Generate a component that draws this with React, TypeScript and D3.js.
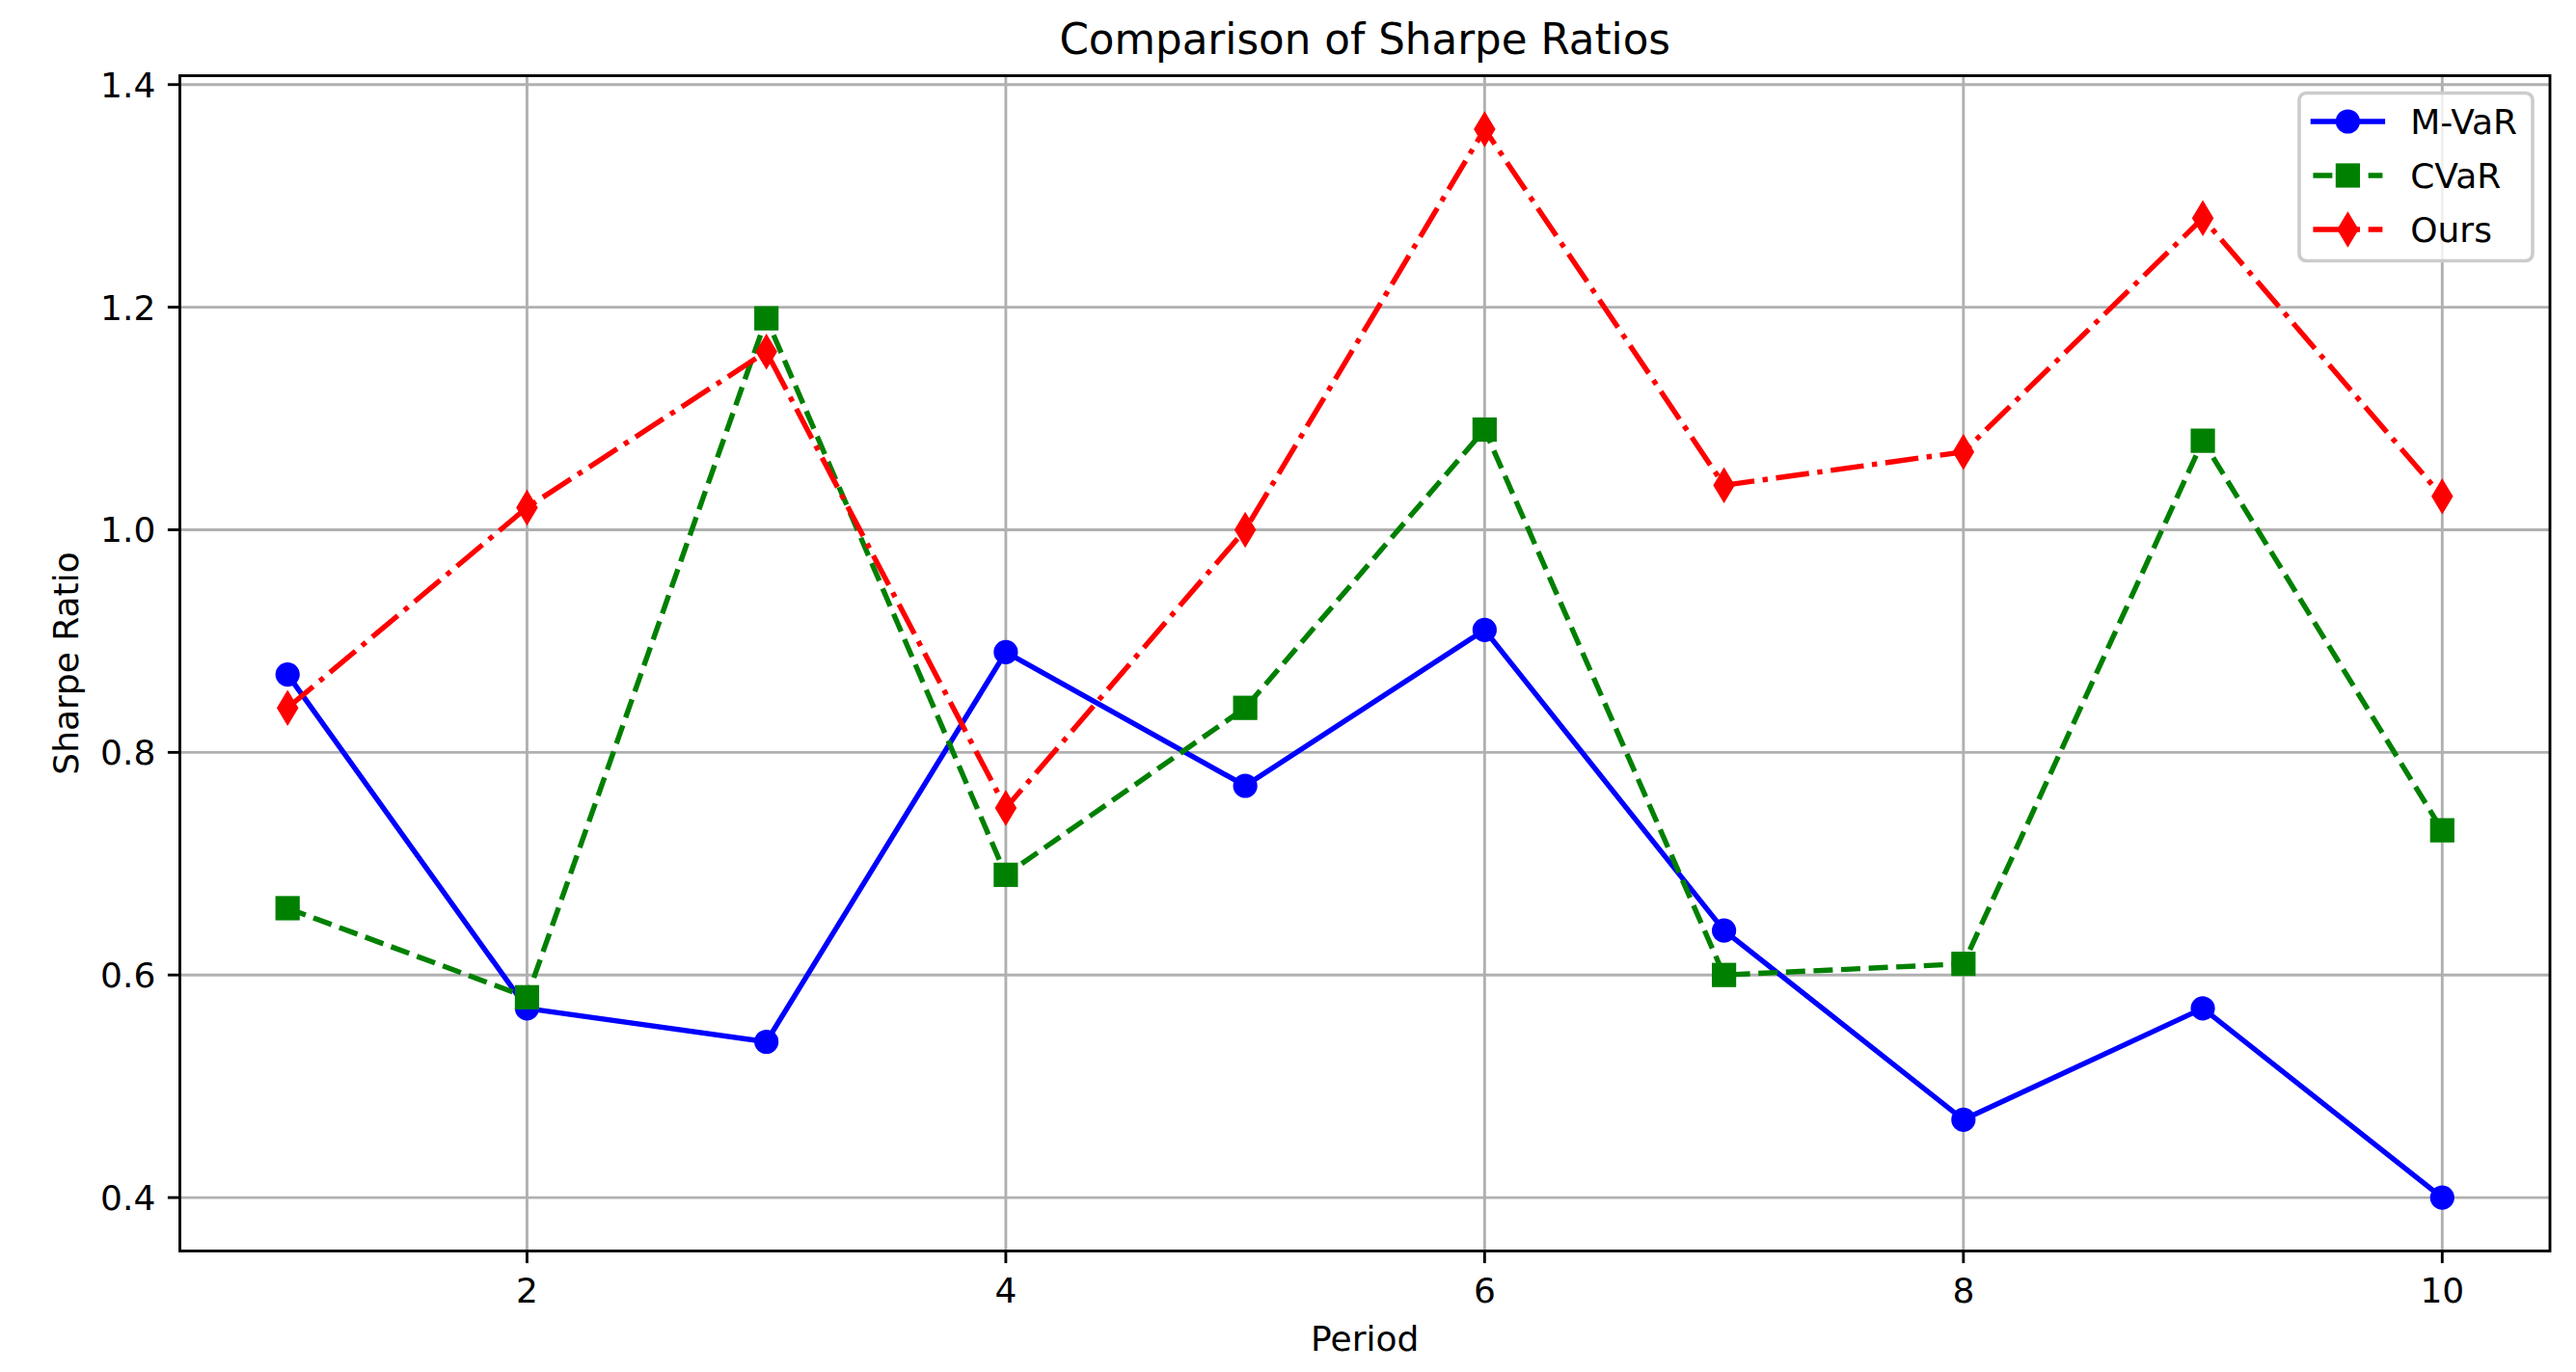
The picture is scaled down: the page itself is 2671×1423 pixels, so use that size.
import React from "react";
import * as d3 from "d3";

const periods = [1, 2, 3, 4, 5, 6, 7, 8, 9, 10];
const mvar = [0.87, 0.57, 0.54, 0.89, 0.77, 0.91, 0.64, 0.47, 0.57, 0.40];
const cvar = [0.66, 0.58, 1.19, 0.69, 0.84, 1.09, 0.60, 0.61, 1.08, 0.73];
const ours = [0.84, 1.02, 1.16, 0.75, 1.00, 1.36, 1.04, 1.07, 1.28, 1.03];
const xTicks = [2, 4, 6, 8, 10];
const yTicks = [0.4, 0.6, 0.8, 1.0, 1.2, 1.4];
const seriesNames = ["M-VaR", "CVaR", "Ours"];

const W = 2671;
const H = 1423;
const PT = 3.6;
const FONT = "'DejaVu Sans', sans-serif";
const FS = 36;

const left = 186.5, right = 2644, top = 78.5, bottom = 1297.5;

export default function App() {
  const allY = [...mvar, ...cvar, ...ours];
  const yMin = d3.min(allY)!, yMax = d3.max(allY)!;
  const yPad = (yMax - yMin) * 0.05;
  const xMin = d3.min(periods)!, xMax = d3.max(periods)!;
  const xPad = (xMax - xMin) * 0.05;
  const x = d3.scaleLinear().domain([xMin - xPad, xMax + xPad]).range([left, right]);
  const y = d3.scaleLinear().domain([yMin - yPad, yMax + yPad]).range([bottom, top]);

  const lw = 1.5 * PT;
  const series = [
    { name: seriesNames[0], values: mvar, color: "#0000ff", dash: "", marker: "circle" },
    { name: seriesNames[1], values: cvar, color: "#008000", dash: `${3.7 * lw} ${1.6 * lw}`, marker: "square" },
    { name: seriesNames[2], values: ours, color: "#ff0000", dash: `${6.4 * lw} ${1.6 * lw} ${1 * lw} ${1.6 * lw}`, marker: "diamond" },
  ];

  const line = d3.line<number>().x((_, i) => x(periods[i])).y((v) => y(v));
  const ms = 6 * PT;
  const mew = 1 * PT;

  const marker = (kind: string, cx: number, cy: number, color: string, key: string) => {
    if (kind === "circle") {
      return <circle key={key} cx={cx} cy={cy} r={ms / 2} fill={color} stroke={color} strokeWidth={mew} />;
    }
    if (kind === "square") {
      return <rect key={key} x={cx - ms / 2} y={cy - ms / 2} width={ms} height={ms} fill={color} stroke={color} strokeWidth={mew} strokeLinejoin="miter" />;
    }
    const hw = (ms * Math.SQRT2 * 0.6) / 2;
    const hh = (ms * Math.SQRT2) / 2;
    return (
      <path key={key} d={`M${cx},${cy - hh}L${cx + hw},${cy}L${cx},${cy + hh}L${cx - hw},${cy}Z`} fill={color} stroke={color} strokeWidth={mew} strokeLinejoin="miter" />
    );
  };

  const gridColor = "#b0b0b0";
  const gw = 0.8 * PT;
  const tickLen = 3.5 * PT;

  // legend geometry
  const lgRight = right - 0.5 * FS;
  const lgTop = top + 0.5 * FS;
  const lgW = 242;
  const lgH = 174;
  const lgLeft = lgRight - lgW;
  const rowY = [126, 182, 238];
  const hx0 = lgLeft + 0.4 * FS;
  const hx1 = hx0 + 2 * FS;
  const tx = hx1 + 0.8 * FS;

  return (
    <svg width={W} height={H} style={{ position: "absolute", left: 0, top: 0, background: "#fff" }} fontFamily={FONT}>
      <rect x={0} y={0} width={W} height={H} fill="#fff" />
      {/* grid */}
      <g>
        {xTicks.map((t) => (
          <line key={"gx" + t} x1={x(t)} x2={x(t)} y1={top} y2={bottom} stroke={gridColor} strokeWidth={gw} />
        ))}
        {yTicks.map((t) => (
          <line key={"gy" + t} x1={left} x2={right} y1={y(t)} y2={y(t)} stroke={gridColor} strokeWidth={gw} />
        ))}
      </g>
      {/* series */}
      <g>
        {series.map((s) => (
          <g key={s.name}>
            <path d={line(s.values)!} fill="none" stroke={s.color} strokeWidth={lw} strokeDasharray={s.dash || undefined} strokeLinejoin="round" strokeLinecap={s.dash ? "butt" : "square"} />
            {s.values.map((v, i) => marker(s.marker, x(periods[i]), y(v), s.color, s.name + i))}
          </g>
        ))}
      </g>
      {/* spines */}
      <rect x={left} y={top} width={right - left} height={bottom - top} fill="none" stroke="#000" strokeWidth={0.8 * PT} />
      {/* ticks */}
      {xTicks.map((t) => (
        <g key={"xt" + t}>
          <line x1={x(t)} x2={x(t)} y1={bottom} y2={bottom + tickLen} stroke="#000" strokeWidth={0.8 * PT} />
          <text x={x(t)} y={1350.5} fontSize={FS} textAnchor="middle" fill="#000">{String(t)}</text>
        </g>
      ))}
      {yTicks.map((t) => (
        <g key={"yt" + t}>
          <line x1={left - tickLen} x2={left} y1={y(t)} y2={y(t)} stroke="#000" strokeWidth={0.8 * PT} />
          <text x={left - 2 * tickLen} y={y(t) + 13} fontSize={FS} textAnchor="end" fill="#000">{t.toFixed(1)}</text>
        </g>
      ))}
      {/* labels */}
      <text x={(left + right) / 2} y={1400.8} fontSize={FS} textAnchor="middle" fill="#000">Period</text>
      <text transform={`translate(80.5,${(top + bottom) / 2}) rotate(-90)`} fontSize={FS} textAnchor="middle" fill="#000">Sharpe Ratio</text>
      <text x={(left + right) / 2} y={55.5} fontSize={43.6} textAnchor="middle" fill="#000">Comparison of Sharpe Ratios</text>
      {/* legend */}
      <g>
        <rect x={lgLeft} y={lgTop} width={lgW} height={lgH} rx={7.2} ry={7.2} fill="#fff" fillOpacity={0.8} stroke="#cccccc" strokeWidth={1 * PT} />
        {series.map((s, i) => (
          <g key={"lg" + s.name}>
            <line x1={hx0} x2={hx1} y1={rowY[i]} y2={rowY[i]} stroke={s.color} strokeWidth={lw} strokeDasharray={s.dash || undefined} strokeLinecap={s.dash ? "butt" : "square"} />
            {marker(s.marker, (hx0 + hx1) / 2, rowY[i], s.color, "lgm" + i)}
            <text x={tx} y={rowY[i] + 12.5} fontSize={FS} fill="#000">{s.name}</text>
          </g>
        ))}
      </g>
    </svg>
  );
}
